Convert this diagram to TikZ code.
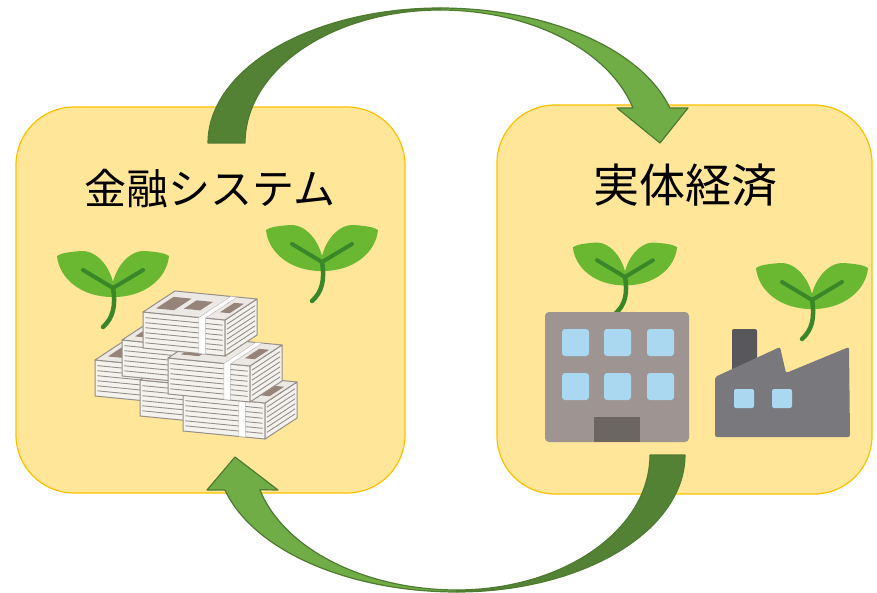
\documentclass[tikz,border=0pt]{standalone}
\usepackage{fontspec}
\newfontfamily\jpfont{Noto Sans CJK JP}
\definecolor{boxfill}{HTML}{FFE699}
\definecolor{boxline}{HTML}{FFC000}
\definecolor{arrowdark}{HTML}{548235}
\definecolor{arrowlight}{HTML}{70AD47}
\definecolor{arrowline}{HTML}{4E7B30}
\definecolor{leaf}{RGB}{106,184,50}
\definecolor{stem}{RGB}{57,135,40}
\definecolor{bldg}{RGB}{158,148,145}
\definecolor{window}{RGB}{170,216,240}
\definecolor{door}{RGB}{108,102,98}
\definecolor{factory}{RGB}{120,120,125}
\definecolor{chimney}{RGB}{88,88,92}
\definecolor{paper}{RGB}{244,242,239}
\definecolor{papertop}{RGB}{236,233,229}
\definecolor{paperline}{RGB}{150,142,136}
\definecolor{billink}{RGB}{150,132,122}

\tikzset{
  panel/.style={draw=boxline, fill=boxfill, line width=1.2pt, rounded corners=58pt,
    inner sep=0pt, outer sep=0pt},
  label/.style={font=\jpfont\fontsize{#1}{#1}\selectfont, text=black, inner sep=0pt},
  darkband/.style={fill=arrowdark, draw=arrowline, line width=1.2pt, line join=round},
  lightband/.style={fill=arrowlight, draw=arrowline, line width=1.2pt, line join=round},
  sprout/.pic={
    \fill[leaf] (2,9) .. controls (2,-16) and (-14,-38) .. (-32,-37)
      .. controls (-44,-36) and (-52,-35) .. (-56,-32)
      .. controls (-54,-10) and (-32,10) .. cycle;
    \fill[leaf] (-2,9) .. controls (-2,-16) and (14,-38) .. (32,-37)
      .. controls (44,-36) and (52,-35) .. (56,-32)
      .. controls (54,-10) and (32,10) .. cycle;
    \draw[stem, line width=4pt, line cap=round, line join=round] (-30,-18) -- (0,0) -- (30,-18);
    \draw[stem, line width=4.5pt, line cap=round] (0,0) .. controls (3,18) and (0,30) .. (-10,39);
  },
  bundle/.pic={
    \begin{scope}[x={(82pt,-8pt)}, y={(32pt,21pt)}, z={(0pt,-36pt)},
        line join=round]
      % front and side faces: edges of the stacked notes
      \filldraw[fill=paper, draw=paperline, line width=1pt]
        (0,0,0) -- (1,0,0) -- (1,0,1) -- (0,0,1) -- cycle;
      \filldraw[fill=paper, draw=paperline, line width=1pt]
        (1,0,0) -- (1,1,0) -- (1,1,1) -- (1,0,1) -- cycle;
      \foreach \u in {0.15,0.29,0.43,0.57,0.71,0.85} {
        \draw[paperline, line width=0.9pt] (0.03,0,\u) -- (0.97,0,\u);
        \draw[paperline, line width=0.9pt] (1,0.06,\u) -- (1,0.94,\u);
      }
      % top note with its print
      \filldraw[fill=papertop, draw=paperline, line width=1pt]
        (0,0,0) -- (1,0,0) -- (1,1,0) -- (0,1,0) -- cycle;
      \fill[billink] (0.08,0.2,0) -- (0.3,0.2,0) -- (0.3,0.75,0) -- (0.08,0.75,0) -- cycle;
      \fill[billink] (0.38,0.3,0) -- (0.58,0.3,0) -- (0.58,0.7,0) -- (0.38,0.7,0) -- cycle;
      \fill[billink] (0.82,0.3,0) -- (0.94,0.3,0) -- (0.94,0.75,0) -- (0.82,0.75,0) -- cycle;
      % paper band
      \filldraw[fill=white, draw=paperline!60, line width=0.5pt]
        (0.68,1,0) -- (0.76,1,0) -- (0.76,0,0) -- (0.76,0,1) -- (0.68,0,1) -- (0.68,0,0) -- cycle;
    \end{scope}
  },
}

\begin{document}
\begin{tikzpicture}[x=1pt, y=-1pt]
\useasboundingbox (0,0) rectangle (877,593);

% the two panels
\node[panel, minimum width=389pt, minimum height=386pt] (finbox) at (210.5,300) {};
\node[panel, minimum width=375pt, minimum height=389pt] (realbox) at (684.5,299.5) {};

% upper curved arrow: finance -> real economy
\path[darkband]
  plot[domain=180:270, samples=40] ({440+232*cos(\x)},{143+135*sin(\x)})
  -- plot[domain=270:180, samples=40] ({440+195*cos(\x)},{143+133*sin(\x)}) -- cycle;
\path[lightband]
  plot[domain=270:345, samples=40] ({440+238*cos(\x)},{143+135*sin(\x)})
  -- (688,108) -- (660,143) -- (617,108)
  -- plot[domain=344.7:270, samples=40] ({440+200*cos(\x)},{143+133*sin(\x)}) -- cycle;

% lower curved arrow: real economy -> finance
\path[darkband]
  plot[domain=0:90, samples=40] ({457+228*cos(\x)},{455+137*sin(\x)})
  -- plot[domain=90:0, samples=40] ({457+193*cos(\x)},{455+135*sin(\x)}) -- cycle;
\path[lightband]
  plot[domain=90:165.2, samples=40] ({457+240*cos(\x)},{455+137*sin(\x)})
  -- (207,490) -- (235,457) -- (278,490)
  -- plot[domain=165.1:90, samples=40] ({457+204*cos(\x)},{455+135*sin(\x)}) -- cycle;

% titles
\node[label=42] (fintitle) at (210,189) {金融システム};
\node[label=46] (realtitle) at (685,185) {実体経済};

% pile of banknote bundles
\pic at (95,360) {bundle};
\pic at (140,380) {bundle};
\pic at (183,395) {bundle};
\pic at (122,340) {bundle};
\pic at (168,358) {bundle};
\pic at (143,312) {bundle};

% sprouts
\pic at (113,288) {sprout};
\pic at (322,262) {sprout};
\pic[scale=0.93] at (625,277) {sprout};
\pic at (812,300) {sprout};

% office building
\fill[bldg, rounded corners=4pt] (545,312) rectangle (689,442);
\foreach \wx in {562,604,647} {
  \foreach \wy in {329,373} {
    \fill[window, rounded corners=3pt] (\wx,\wy) rectangle ++(27,27);
  }
}
\fill[door] (594,417) rectangle (640,442);

% factory
\fill[chimney, rounded corners=2pt] (732,329) rectangle (757,372);
\fill[factory, rounded corners=2pt] (715,437) -- (715,377) -- (780,347) -- (786,373)
  -- (849,347) -- (850,437) -- cycle;
\fill[window, rounded corners=2pt] (734,389) rectangle (754,408);
\fill[window, rounded corners=2pt] (772,389) rectangle (792,408);
\end{tikzpicture}
\end{document}
